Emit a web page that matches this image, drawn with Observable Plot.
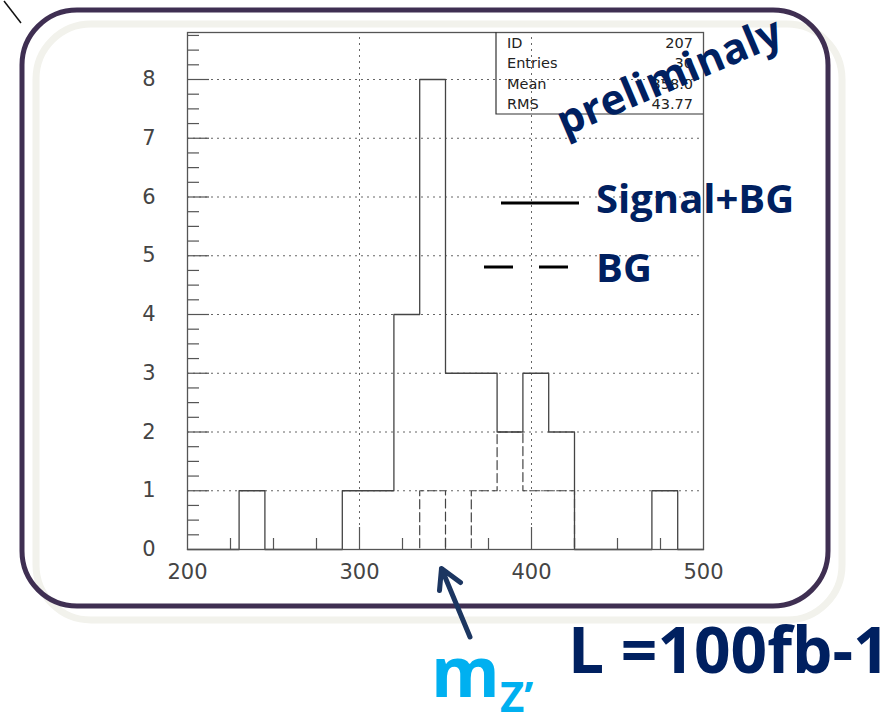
<!DOCTYPE html>
<html>
<head>
<meta charset="utf-8">
<script src="https://cdn.jsdelivr.net/npm/d3@7"></script>
<script src="https://cdn.jsdelivr.net/npm/@observablehq/plot@0.6"></script>
<style>
  body { margin: 0; background: #fff; }
  #wrap { position: relative; width: 896px; height: 720px; overflow: hidden; background: #fff; }
  #wrap > svg { position: absolute; left: 0; top: 0; }
  #deco { z-index: 0; }
  #chart svg { position: absolute; left: 0; top: 0; z-index: 1; }
  #over { z-index: 2; }
</style>
</head>
<body>
<div id="wrap">
  <svg id="deco" width="896" height="720"></svg>
  <div id="chart"></div>
  <svg id="over" width="896" height="720"></svg>
</div>
<script>
// ---------- data ----------
const binEdges = [200,215,230,245,260,275,290,305,320,335,350,365,380,395,410,425,440,455,470,485,500];
const signalCounts = [0,0,1,0,0,0,1,1,4,8,3,3,2,3,2,0,0,0,1,0];
const bgCounts     = [0,0,0,0,0,0,0,0,0,1,0,1,2,1,1,0,0,0,0,0];
const xTickLabels = [200,300,400,500];
const yTickLabels = [0,1,2,3,4,5,6,7,8];
const xGrid = [300,400];
const yGrid = [1,2,3,4,5,6,7,8];
const xMinorTicks = [225,250,275,325,350,375,425,450,475];
const xMajorTicks = [300,400];
const yMinorTicks = [0.25,0.5,0.75,1.25,1.5,1.75,2.25,2.5,2.75,3.25,3.5,3.75,4.25,4.5,4.75,5.25,5.5,5.75,6.25,6.5,6.75,7.25,7.5,7.75,8.25,8.5,8.75];
const yMajorTicks = [1,2,3,4,5,6,7,8];
const statLabels = ["ID","Entries","Mean","RMS"];
const statValues = ["207","30","358.0","43.77"];
const xDomain = [200,500];
const yDomain = [0,8.8];

// ---------- layout ----------
const W = 896, H = 720;
const mL = 187, mR = 193, mT = 32, mB = 171;
const xPerPx = (xDomain[1]-xDomain[0])/(W-mL-mR);
const yPerPx = (yDomain[1]-yDomain[0])/(H-mT-mB);

const stepData = counts => binEdges.map((e,i) => ({x: e, y: counts[Math.min(i, counts.length-1)]}));
const sig = stepData(signalCounts);
const bg = stepData(bgCounts);

const axisCol = "#555";
const chart = Plot.plot({
  width: W, height: H,
  marginLeft: mL, marginRight: mR, marginTop: mT, marginBottom: mB,
  style: {background: "transparent", fontFamily: "DejaVu Sans", fontSize: "21px", color: "#444", overflow: "visible"},
  x: {domain: xDomain, ticks: xTickLabels, tickSize: 0, tickPadding: 15, label: null},
  y: {domain: yDomain, ticks: yTickLabels, tickSize: 0, tickPadding: 32, label: null},
  marks: [
    Plot.ruleY(yGrid, {y: d => d, x1: xDomain[0], x2: xDomain[1], stroke: "#666", strokeWidth: 1, strokeDasharray: "2,4"}),
    Plot.ruleX(xGrid, {x: d => d, y1: yDomain[0], y2: yDomain[1], stroke: "#666", strokeWidth: 1, strokeDasharray: "2,4"}),
    Plot.ruleY(yMinorTicks, {y: d => d, x1: xDomain[0], x2: xDomain[0] + 12*xPerPx, stroke: axisCol, strokeWidth: 1.2}),
    Plot.ruleY(yMajorTicks, {y: d => d, x1: xDomain[0], x2: xDomain[0] + 22*xPerPx, stroke: axisCol, strokeWidth: 1.2}),
    Plot.ruleX(xMinorTicks, {x: d => d, y1: 0, y2: 11*yPerPx, stroke: axisCol, strokeWidth: 1.2}),
    Plot.ruleX(xMajorTicks, {x: d => d, y1: 0, y2: 22*yPerPx, stroke: axisCol, strokeWidth: 1.2}),
    Plot.line(bg, {x: "x", y: "y", curve: "step-after", stroke: "#444", strokeWidth: 1.2, strokeDasharray: "9,4"}),
    Plot.line(sig, {x: "x", y: "y", curve: "step-after", stroke: "#444", strokeWidth: 1.3}),
    Plot.frame({stroke: axisCol, strokeWidth: 1.3})
  ]
});
document.getElementById("chart").appendChild(chart);

// ---------- decorations ----------
const NS = "http://www.w3.org/2000/svg";
function el(parent, tag, attrs, text) {
  const e = document.createElementNS(NS, tag);
  for (const k in attrs) e.setAttribute(k, attrs[k]);
  if (text !== undefined) e.textContent = text;
  parent.appendChild(e);
  return e;
}
const deco = document.getElementById("deco");
el(deco, "rect", {x: 36, y: 24, width: 806, height: 596, rx: 55, fill: "none", stroke: "#f2f2ec", "stroke-width": 7});
el(deco, "rect", {x: 22, y: 10, width: 806, height: 596, rx: 55, fill: "none", stroke: "#3f2f52", "stroke-width": 5});
el(deco, "line", {x1: 4, y1: 1, x2: 21, y2: 23, stroke: "#111", "stroke-width": 1.5});

const over = document.getElementById("over");
// stats box
el(over, "path", {d: "M496,32V114H703", fill: "none", stroke: "#333", "stroke-width": 1.2});
statLabels.forEach((s, i) => {
  const yb = [48, 68, 89, 109][i];
  el(over, "text", {x: 507, y: yb, "font-family": "DejaVu Sans", "font-size": 14.5, fill: "#222"}, s);
  el(over, "text", {x: 693, y: yb, "text-anchor": "end", "font-family": "DejaVu Sans", "font-size": 14.5, fill: "#222"}, statValues[i]);
});
// legend
el(over, "line", {x1: 501, y1: 203, x2: 579, y2: 203, stroke: "#000", "stroke-width": 3});
el(over, "line", {x1: 484, y1: 267, x2: 513, y2: 267, stroke: "#000", "stroke-width": 3});
el(over, "line", {x1: 539, y1: 267, x2: 568, y2: 267, stroke: "#000", "stroke-width": 3});
const bold = {"font-family": "'Open Sans', Lato, sans-serif", "font-weight": 700};
el(over, "text", {x: 596, y: 213, "font-size": 40, fill: "#002060", ...bold}, "Signal+BG");
el(over, "text", {x: 596, y: 282, "font-size": 40, fill: "#002060", ...bold}, "BG");
el(over, "text", {transform: "translate(669,76) rotate(-23)", "text-anchor": "middle", dy: "0.35em", "font-size": 42, fill: "#002060", ...bold}, "preliminaly");
// arrow
el(over, "path", {d: "M470,637L441.5,568.5M439.5,590.5L441.5,568.5L460.5,582.5", fill: "none", stroke: "#1c3661", "stroke-width": 5, "stroke-linecap": "round", "stroke-linejoin": "round"});
// bottom texts
el(over, "text", {x: 568, y: 673, "font-size": 64, fill: "#002060", ...bold}, "L =100fb-1");
el(over, "text", {x: 431, y: 697, "font-size": 70, fill: "#00b0f0", ...bold}, "m");
el(over, "text", {x: 500, y: 712, "font-size": 42, fill: "#00b0f0", ...bold}, "Z\u2019");
</script>
</body>
</html>
